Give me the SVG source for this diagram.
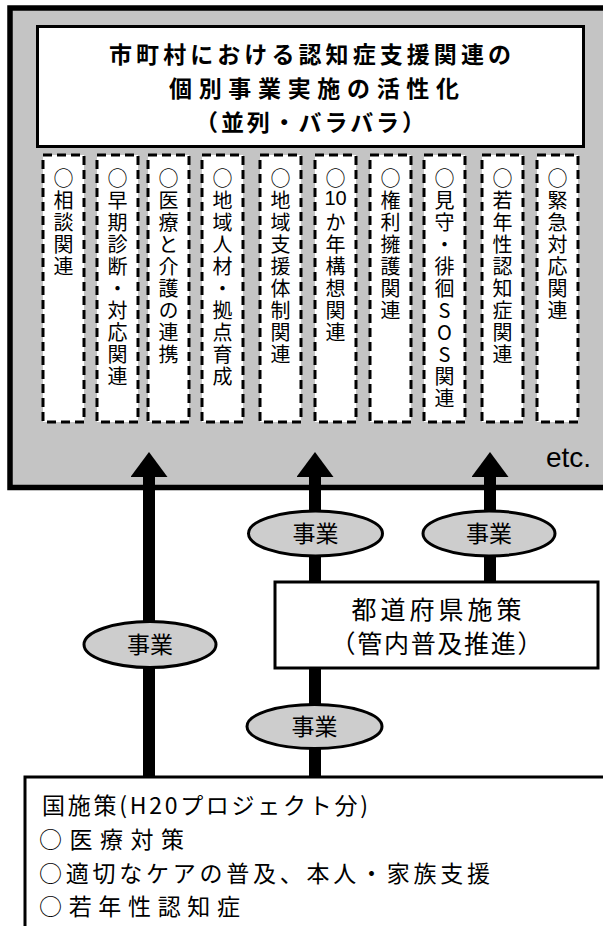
<svg xmlns="http://www.w3.org/2000/svg" width="603" height="926" viewBox="0 0 603 926">
<defs>
<style>
.jp{font-family:"Noto Sans CJK JP","Noto Sans CJK SC",sans-serif;fill:#000}
.title{font-size:23px;font-weight:700;text-anchor:middle}
.col{font-size:20px;letter-spacing:2px;writing-mode:vertical-rl;text-orientation:upright}
.box{fill:#fff;stroke:#000;stroke-width:3}
.dash{fill:#fff;stroke:#000;stroke-width:3;stroke-dasharray:9 5}
.oval{fill:#cdcdcd;stroke:#000;stroke-width:3}
.lbl{font-size:23px;text-anchor:middle}
.body{font-size:23px}
.pref{font-size:25px;text-anchor:middle}
.shaft{stroke:#000;stroke-width:12;fill:none}
</style>
<marker id="head" markerUnits="userSpaceOnUse" viewBox="0 0 25 37" markerWidth="25" markerHeight="37" refX="15" refY="18.5" orient="auto">
<path d="M0,0 L25,18.5 L0,37 Z" fill="#000"/>
</marker>
</defs>
<rect width="603" height="926" fill="#fff"/>

<g id="municipal">
<rect x="10" y="8" width="605" height="479.5" fill="#c4c4c4" stroke="#000" stroke-width="5.5"/>
<g id="title">
<rect class="box" x="37.5" y="26.5" width="546" height="120"/>
<text class="jp title" x="310" y="63" textLength="402" lengthAdjust="spacing">市町村における認知症支援関連の</text>
<text class="jp title" x="314" y="97" textLength="290" lengthAdjust="spacing">個別事業実施の活性化</text>
<text class="jp title" x="310" y="131" textLength="230" lengthAdjust="spacing">（並列・バラバラ）</text>
</g>
<g id="col1"><rect class="dash" x="43" y="155" width="41" height="267"/><text class="jp col" x="63.5" y="168">○相談関連</text></g>
<g id="col2"><rect class="dash" x="97" y="155" width="41" height="267"/><text class="jp col" x="117.5" y="168">○早期診断・対応関連</text></g>
<g id="col3"><rect class="dash" x="148" y="155" width="41" height="267"/><text class="jp col" x="168.5" y="168">○医療と介護の連携</text></g>
<g id="col4"><rect class="dash" x="202" y="155" width="41" height="267"/><text class="jp col" x="222.5" y="168">○地域人材・拠点育成</text></g>
<g id="col5"><rect class="dash" x="260" y="155" width="41" height="267"/><text class="jp col" x="280.5" y="168">○地域支援体制関連</text></g>
<g id="col6"><rect class="dash" x="315" y="155" width="41" height="267"/><text class="jp col" x="335.5" y="168">○</text><text x="335.5" y="205" font-family="Liberation Sans, sans-serif" font-size="20" text-anchor="middle">10</text><text class="jp col" x="335.5" y="212">か年構想関連</text></g>
<g id="col7"><rect class="dash" x="370" y="155" width="41" height="267"/><text class="jp col" x="390.5" y="168">○権利擁護関連</text></g>
<g id="col8"><rect class="dash" x="424" y="155" width="41" height="267"/><text class="jp col" x="444.5" y="168">○見守・徘徊SOS関連</text></g>
<g id="col9"><rect class="dash" x="482" y="155" width="41" height="267"/><text class="jp col" x="502.5" y="168">○若年性認知症関連</text></g>
<g id="col10"><rect class="dash" x="537" y="155" width="41" height="267"/><text class="jp col" x="557.5" y="168">○緊急対応関連</text></g>
<text x="546" y="467" font-family="Liberation Sans, sans-serif" font-size="28">etc.</text>
</g>

<g id="connectors">
<path class="shaft" d="M149,777 V462" marker-end="url(#head)"/>
<path class="shaft" d="M315,582 V462" marker-end="url(#head)"/>
<path class="shaft" d="M490,582 V462" marker-end="url(#head)"/>
<path class="shaft" d="M315,777 V668"/>
</g>

<g id="label1"><ellipse class="oval" cx="150" cy="644.5" rx="66" ry="23"/><text class="jp lbl" x="150" y="652.5">事業</text></g>
<g id="label2"><ellipse class="oval" cx="315.5" cy="533.5" rx="67" ry="22.5"/><text class="jp lbl" x="315.5" y="541.5">事業</text></g>
<g id="label3"><ellipse class="oval" cx="489" cy="533.5" rx="66" ry="22.5"/><text class="jp lbl" x="489" y="541.5">事業</text></g>
<g id="label4"><ellipse class="oval" cx="314.5" cy="726.5" rx="67.5" ry="22"/><text class="jp lbl" x="314.5" y="734.5">事業</text></g>

<g id="prefecture">
<rect class="box" x="275" y="582" width="323" height="86"/>
<text class="jp pref" x="436.5" y="619" textLength="170" lengthAdjust="spacing">都道府県施策</text>
<text class="jp pref" x="436.5" y="653" textLength="212" lengthAdjust="spacing">（管内普及推進）</text>
</g>

<g id="national">
<rect class="box" x="25" y="777" width="600" height="200"/>
<text class="jp body" x="42" y="814" textLength="326" lengthAdjust="spacing">国施策(H20プロジェクト分)</text>
<text class="jp body" x="39" y="848" textLength="145" lengthAdjust="spacing">○医療対策</text>
<text class="jp body" x="39" y="881.5" textLength="451" lengthAdjust="spacing">○適切なケアの普及、本人・家族支援</text>
<text class="jp body" x="39" y="915" textLength="201" lengthAdjust="spacing">○若年性認知症</text>
</g>
</svg>
